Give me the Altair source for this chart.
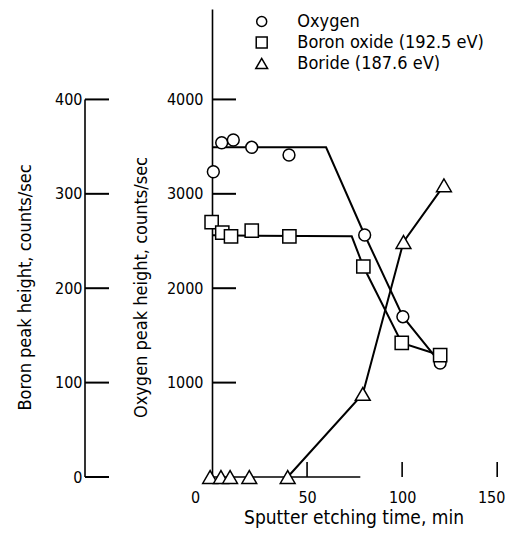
import altair as alt
import pandas as pd

FONT = "DejaVu Sans Condensed"

series_names = ["Oxygen", "Boron oxide (192.5 eV)", "Boride (187.6 eV)"]

# Oxygen peak height (circles), counts/sec
oxy_t = [0.7, 5.1, 11.2, 20.9, 40.5, 80.3, 100.4, 120.0]
oxy_v = [3234, 3541, 3570, 3493, 3411, 2564, 1698, 1208]
oxy_fit_t = [0, 60, 80.3, 100.4, 120.0]
oxy_fit_v = [3493, 3493, 2564, 1698, 1208]

# Boron oxide peak height (squares), counts/sec (boron scale)
box_t = [-0.2, 5.4, 10.0, 20.9, 40.7, 79.6, 99.8, 120.0]
box_v = [270, 259, 255, 261, 255, 223, 142, 129]
box_fit_t = [0, 73.5, 79.6, 99.8, 120.0]
box_fit_v = [256, 255, 223, 142, 129]

# Boride peak height (triangles)
bor_t = [-1.0, 4.7, 9.5, 19.6, 39.8, 79.3, 100.7, 122.0]
bor_v = [0, 0, 0, 0, 0, 88, 249, 309]
bor_fit_t = [39.8, 79.3, 100.7, 122.0]
bor_fit_v = [0, 88, 249, 309]

# axes
x_ticks = [0, 50, 100, 150]
x_tick_marks = [50, 100, 150]
x_base = [0, 78]
oxy_ticks = [1000, 2000, 3000, 4000]
boron_ticks = [0, 100, 200, 300, 400]

W, H = 289, 468
X_DOM = [0, 152]
OXY_DOM = [0, 4958]
BOR_DOM = [0, 495.8]
BORON_OFFSET = 127

xs = alt.Scale(domain=X_DOM, nice=False, zero=False)
ys_o = alt.Scale(domain=OXY_DOM, nice=False, zero=False)
ys_b = alt.Scale(domain=BOR_DOM, nice=False, zero=False)

shape_scale = alt.Scale(domain=series_names, range=["circle", "square", "triangle-up"])

oxy_df = pd.DataFrame({"t": oxy_t, "v": oxy_v, "series": series_names[0]})
oxy_fit = pd.DataFrame({"t": oxy_fit_t, "v": oxy_fit_v})
box_df = pd.DataFrame({"t": box_t, "v": box_v, "series": series_names[1]})
box_fit = pd.DataFrame({"t": box_fit_t, "v": box_fit_v})
bor_df = pd.DataFrame({"t": bor_t, "v": bor_v, "series": series_names[2]})
bor_fit = pd.DataFrame({"t": bor_fit_t, "v": bor_fit_v})
legend_df = pd.DataFrame({"series": series_names})

oxy_axis = alt.Axis(
    orient="left", values=oxy_ticks, format="d", ticks=False, domain=True,
    domainColor="black", domainWidth=1.6, labelPadding=9, grid=False,
    labelFont=FONT, labelFontSize=16, labelColor="black",
    title="Oxygen peak height, counts/sec", titleFont=FONT, titleFontSize=18,
    titleFontWeight="normal", titleColor="black", titleX=-71, titleY=278,
    titleAngle=270, titleBaseline="middle", titleAlign="center",
)
bor_axis = alt.Axis(
    orient="left", offset=BORON_OFFSET, values=boron_ticks, format="d",
    ticks=False, domain=False, labelPadding=3, grid=False,
    labelFont=FONT, labelFontSize=16, labelColor="black",
    title="Boron peak height, counts/sec", titleFont=FONT, titleFontSize=18,
    titleFontWeight="normal", titleColor="black", titleX=-60, titleY=278,
    titleAngle=270, titleBaseline="middle", titleAlign="center",
)
x_axis = alt.Axis(
    values=x_ticks, format="d", ticks=False, domain=False, labelPadding=12,
    grid=False, labelFont=FONT, labelFontSize=16, labelColor="black",
    labelFlush=False,
    labelOffset={"condition": [
        {"test": "datum.value === 0", "value": -17},
        {"test": "datum.value === 150", "value": -6},
    ], "value": 0},
    title="Sputter etching time, min", titleFont=FONT, titleFontSize=19,
    titleFontWeight="normal", titleColor="black", titleX=141.5, titleY=46,
    titleBaseline="alphabetic", titleAlign="center",
)


def X():
    return alt.X("t:Q", scale=xs, axis=x_axis)


LW = 2
PT = dict(filled=False, fill="white", color="black", strokeWidth=1.5, opacity=1)
SHAPE = alt.Shape("series:N", scale=shape_scale, legend=None)

# ---------- oxygen scale ----------
o_line = alt.Chart(oxy_fit).mark_line(color="black", strokeWidth=LW).encode(
    x=X(), y=alt.Y("v:Q", scale=ys_o, axis=None),
)
o_ticks = alt.Chart(pd.DataFrame({"v": oxy_ticks})).mark_rule(color="black", strokeWidth=2).encode(
    y=alt.Y("v:Q", scale=ys_o, axis=None),
    x=alt.value(0), x2=alt.value(24),
)
o_pts = alt.Chart(oxy_df).mark_point(size=140, **PT).encode(
    x=X(), y=alt.Y("v:Q", scale=ys_o, axis=oxy_axis), shape=SHAPE,
)

# ---------- boron scale ----------
b_axisline = alt.Chart(pd.DataFrame({"a": [min(boron_ticks)], "b": [max(boron_ticks)]})).mark_rule(
    color="black", strokeWidth=1.6
).encode(
    y=alt.Y("a:Q", scale=ys_b, axis=None), y2="b:Q",
    x=alt.value(-BORON_OFFSET),
)
b_ticks = alt.Chart(pd.DataFrame({"v": boron_ticks})).mark_rule(color="black", strokeWidth=2).encode(
    y=alt.Y("v:Q", scale=ys_b, axis=None),
    x=alt.value(-BORON_OFFSET), x2=alt.value(-BORON_OFFSET + 24),
)
x_baseline = alt.Chart(pd.DataFrame({"t": [x_base[0]], "b": [x_base[1]], "v": [0]})).mark_rule(
    color="black", strokeWidth=1.6
).encode(
    x=X(), x2="b:Q",
    y=alt.Y("v:Q", scale=ys_b, axis=None),
)
x_tks = alt.Chart(pd.DataFrame({"t": x_tick_marks})).mark_rule(color="black", strokeWidth=1.6).encode(
    x=X(), y=alt.value(H), y2=alt.value(H - 15),
)
box_line = alt.Chart(box_fit).mark_line(color="black", strokeWidth=LW).encode(
    x=X(), y=alt.Y("v:Q", scale=ys_b, axis=None),
)
bor_line = alt.Chart(bor_fit).mark_line(color="black", strokeWidth=LW).encode(
    x=X(), y=alt.Y("v:Q", scale=ys_b, axis=None),
)
box_pts = alt.Chart(box_df).mark_point(size=175, **PT).encode(
    x=X(), y=alt.Y("v:Q", scale=ys_b, axis=bor_axis), shape=SHAPE,
)
bor_pts = alt.Chart(bor_df).mark_point(size=220, **PT).encode(
    x=X(), y=alt.Y("v:Q", scale=ys_b, axis=None), shape=SHAPE,
)

# ---------- legend (drawn as marks) ----------
leg_y = alt.Y("series:N", scale=alt.Scale(type="point", domain=series_names,
                                          range=[12.5, 54.5], padding=0), axis=None)
leg_sym = alt.Chart(legend_df).mark_point(**PT).encode(
    x=alt.value(49.7), y=leg_y, shape=SHAPE,
    size=alt.Size("series:N", scale=alt.Scale(domain=series_names, range=[100, 140, 175]), legend=None),
)
leg_txt = alt.Chart(legend_df).mark_text(
    align="left", baseline="middle", font=FONT, fontSize=18, color="black"
).encode(
    x=alt.value(85.3), y=leg_y, text="series:N",
)

chart = alt.layer(
    o_line, o_ticks, b_axisline, b_ticks, x_baseline, x_tks,
    box_line, bor_line, o_pts, box_pts, bor_pts, leg_sym, leg_txt,
).resolve_scale(y="independent").properties(
    width=W, height=H,
    autosize=alt.AutoSizeParams(type="none"),
    padding={"left": 204, "top": 1, "right": 4, "bottom": 51},
    background="white",
).configure_view(stroke=None)

chart.save("out.html", embed_options={"renderer": "svg", "actions": False})
